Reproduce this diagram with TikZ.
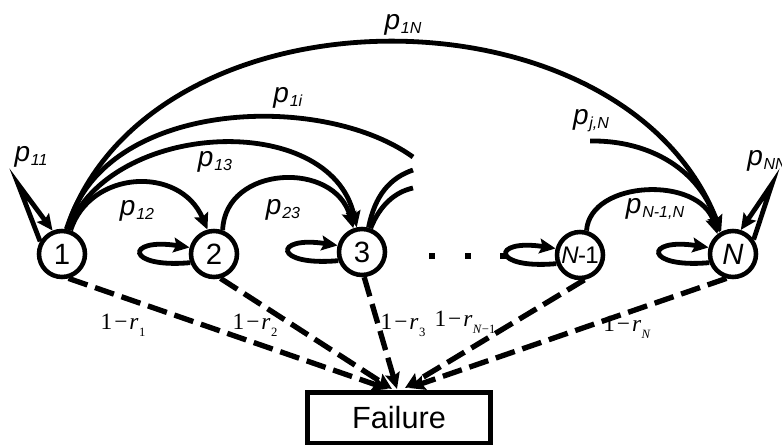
\documentclass[tikz,border=0pt]{standalone}
\usepackage{fontspec}
\setmainfont{Liberation Sans}
\newfontfamily\tmfont{Liberation Serif}
\usetikzlibrary{arrows.meta}
\newcommand\plab[1]{\textit{p}\kern0.6pt\raisebox{-3pt}{\fontsize{12}{12}\selectfont\textit{#1}}}
\newcommand\rlab[1]{{\tmfont 1\kern1.5pt−\kern1.5pt\textit{r}\kern0.3pt\raisebox{-0.3em}{\fontsize{9.5}{9.5}\selectfont #1}}}
\newcommand\sloop[1]{\draw[arr] (#1.200) .. controls +(-65,6) and +(-65,-10) .. (#1.165);}
\begin{document}
\begin{tikzpicture}[x=0.75pt,y=-0.75pt,
  st/.style={circle,draw,line width=3.4pt,minimum size=34.5pt,inner sep=0pt,font=\fontsize{22}{22}\selectfont},
  arr/.style={line width=3.6pt,-{Stealth[length=12pt,width=11pt,inset=2pt]}},
  ln/.style={line width=3.6pt},
  dsh/.style={line width=4pt,dash pattern=on 15pt off 6pt,-{Stealth[length=12pt,width=11pt,inset=2pt]}},
  pl/.style={font=\fontsize{21}{21}\selectfont,inner sep=0pt},
  rl/.style={font=\fontsize{17.5}{17.5}\selectfont,inner sep=0pt},
  dot/.style={rectangle,fill,inner sep=0pt,minimum size=4pt}]
\useasboundingbox (0,0) rectangle (782,445);
\clip (0,0) rectangle (782,445);
% states
\node[st] (n1) at (62,254) {1};
\node[st] (n2) at (214,254) {2};
\node[st] (n3) at (362,252) {3};
\node[st] (nm) at (580,255) {\fontsize{18}{18}\selectfont\textit{N}\kern-0.5pt-\kern-0.5pt1};
\node[st] (nN) at (733,254) {\textit{N}};
\node[draw,line width=3.6pt,minimum width=137pt,minimum height=38pt,font=\fontsize{23}{23}\selectfont] (fail) at (399,418) {Failure};
% dots
\node[dot] (d1) at (432,256) {};
\node[dot] (d2) at (468,256) {};
\node[dot] (d3) at (503,256) {};
% free ends
\coordinate (i1) at (413,157);
\coordinate (s1) at (413,170);
\coordinate (s2) at (413,188);
\coordinate (j1) at (590,141);
\coordinate (a11) at (18,184);
\coordinate (aNN) at (772,184);
\coordinate (f1) at (388,389);
\coordinate (f2) at (392,389);
\coordinate (f3) at (397,389);
\coordinate (f4) at (405,388);
\coordinate (f5) at (409,388);
% transitions
\draw[arr] (n1.80) .. controls (150,-20) and (623,-20) .. (nN.118);
\draw[ln] (n1.78) .. controls (100,100) and (320,90) .. (i1);
\draw[arr] (n1.76) .. controls (110,120) and (330,110) .. (n3.102);
\draw[arr] (n1.70) .. controls (90,170) and (180,165) .. (n2.105);
\draw[arr] (n2.70) .. controls (225,165) and (335,160) .. (n3.110);
\draw[ln] (n3.75) .. controls (375,195) and (390,178) .. (s1);
\draw[ln] (n3.70) .. controls (380,205) and (395,192) .. (s2);
\draw[arr] (j1) .. controls (650,140) and (700,170) .. (nN.122);
\draw[arr] (nm.75) .. controls (590,180) and (700,175) .. (nN.128);
% self loops
\draw[arr] (n1.150) -- (a11) -- (n1.112);
\draw[arr] (nN.35) -- (aNN) -- (nN.72);
\sloop{n2}
\sloop{n3}
\sloop{nm}
\sloop{nN}
% failures
\draw[dsh] (n1.-75) -- (f1);
\draw[dsh] (n2.-75) -- (f2);
\draw[dsh] (n3.-85) -- (f3);
\draw[dsh] (nm.-80) -- (f4);
\draw[dsh] (nN.-105) -- (f5);
% labels
\node[pl] (l11) at (31,157) {\plab{11}};
\node[pl] (l12) at (137,211) {\plab{12}};
\node[pl] (l13) at (215,162) {\plab{13}};
\node[pl] (l1i) at (288,98) {\plab{1i}};
\node[pl] (l1N) at (403,25) {\plab{1N}};
\node[pl] (l23) at (283,210) {\plab{23}};
\node[pl] (ljN) at (591,121) {\plab{j,N}};
\node[pl] (lmN) at (655,209) {\plab{N-1,N}};
\node[pl,anchor=west] (lNN) at (747,161) {\plab{NN}};
\node[rl] (r1) at (123,325) {\rlab{1}};
\node[rl] (r2) at (255,325) {\rlab{2}};
\node[rl] (r3) at (403,325) {\rlab{3}};
\node[rl] (rm) at (465,322) {\rlab{\textit{N}−1}};
\node[rl] (rN) at (627,327) {\rlab{\textit{N}}};
\end{tikzpicture}
\end{document}
